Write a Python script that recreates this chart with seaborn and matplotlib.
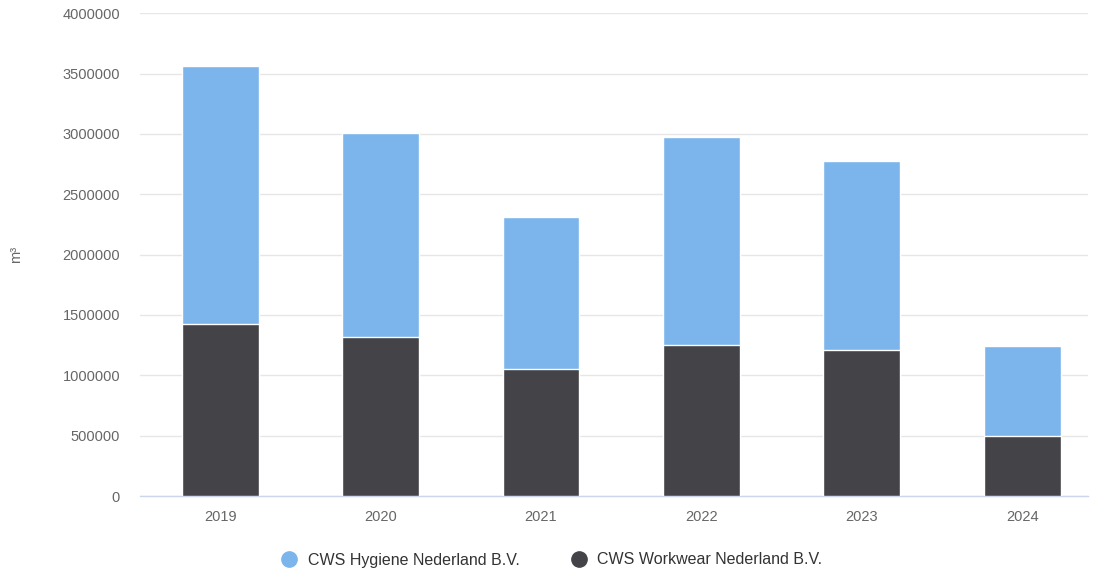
import matplotlib
matplotlib.use("Agg")
import matplotlib.pyplot as plt
from matplotlib.lines import Line2D
import seaborn as sns
import pandas as pd
import numpy as np

years = ["2019", "2020", "2021", "2022", "2023", "2024"]
workwear = [1427000, 1317000, 1051000, 1253000, 1206000, 498000]
hygiene = [2133000, 1693000, 1259000, 1726000, 1566000, 747000]
series_names = ["CWS Hygiene Nederland B.V.", "CWS Workwear Nederland B.V."]
colors = ["#7cb5ec", "#434348"]

sns.set_theme(style="white")
plt.rcParams["font.family"] = ["Liberation Sans", "DejaVu Sans"]

totals = [h + w for h, w in zip(hygiene, workwear)]
df = pd.DataFrame({"year": years, "total": totals, "workwear": workwear})

fig = plt.figure(figsize=(10.94, 5.76), dpi=100)
ax_left, ax_right, ax_top, ax_bottom = 140, 1088, 13.3, 496
ax = fig.add_axes([ax_left/1094, (576-ax_bottom)/576, (ax_right-ax_left)/1094, (ax_bottom-ax_top)/576])

sns.barplot(data=df, x="year", y="total", color=colors[0], saturation=1,
            width=0.48, edgecolor="white", linewidth=1, ax=ax, zorder=3)
sns.barplot(data=df, x="year", y="workwear", color=colors[1], saturation=1,
            width=0.48, edgecolor="white", linewidth=1, ax=ax, zorder=4)

cat_px = 160.4
ax.set_ylim(0, 4000000)
ax.set_xlim(-0.5, -0.5 + (ax_right - ax_left) / cat_px)
ticks = np.arange(0, 4000001, 500000)
ax.set_yticks(ticks)
ax.set_yticklabels([f"{int(v)}" for v in ticks])
ax.yaxis.grid(True, color="#e6e6e6", linewidth=1, zorder=0)
ax.set_axisbelow(True)
for s in ["top", "right", "left"]:
    ax.spines[s].set_visible(False)
ax.spines["bottom"].set_color("#ccd6eb")
ax.spines["bottom"].set_linewidth(1)
ax.tick_params(axis="both", length=0, labelsize=10.5, colors="#666666")
ax.tick_params(axis="y", pad=14.4)
ax.tick_params(axis="x", pad=10)
ax.set_xlabel("")
ax.set_ylabel("m³", color="#666666", fontsize=10.5)
ax.yaxis.set_label_coords((23 - ax_left) / (ax_right - ax_left), 0.5)

handles = [Line2D([0], [0], marker="o", linestyle="", markersize=11,
                  markerfacecolor=c, markeredgecolor=c) for c in colors]
fig.legend(handles, series_names, loc="center", bbox_to_anchor=(552/1094, 1 - 560/576),
           ncol=2, frameon=False, fontsize=11.5, labelcolor="#333333",
           handlelength=1.0, handletextpad=0.63, columnspacing=3.25,
           borderpad=0, borderaxespad=0)

fig.savefig("out.png", dpi=100)
